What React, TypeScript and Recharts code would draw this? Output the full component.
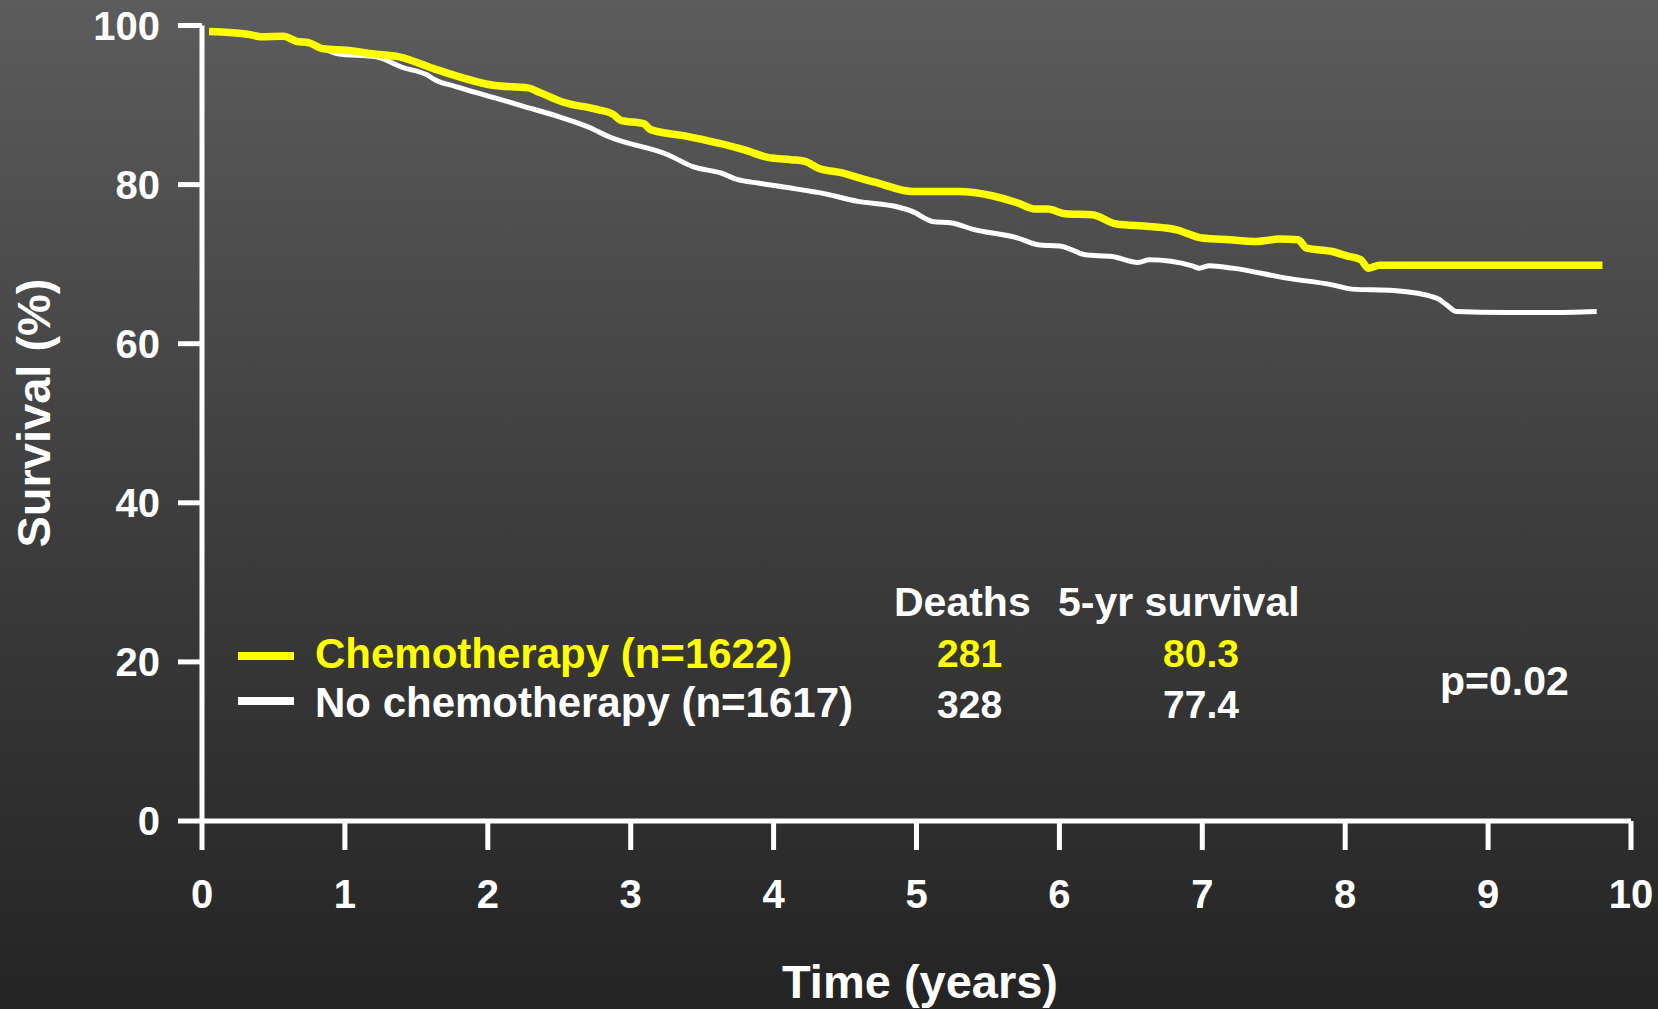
import { LineChart, Line, XAxis, YAxis, Legend } from "recharts";

// survival curves (time in years, survival in %)
const chemoTime = [
  0.05, 0.33, 0.41, 0.57, 0.66, 0.75, 0.85, 1.01, 1.19, 1.38, 1.64, 2.05, 2.28,
  2.37, 2.53, 2.77, 2.88, 2.93, 3.09, 3.14, 3.37, 3.79, 3.96, 4.12, 4.22, 4.31,
  4.48, 4.64, 4.73, 4.97, 5.29, 5.53, 5.71, 5.83, 5.92, 6.04, 6.23, 6.4, 6.63,
  6.82, 7.0, 7.19, 7.38, 7.54, 7.67, 7.73, 7.91, 8.01, 8.11, 8.16, 8.24, 9.8,
];
const chemoSurv = [
  99.25, 98.87, 98.6, 98.65, 98.02, 97.82, 97.07, 96.89, 96.44, 96.06, 94.46,
  92.45, 92.16, 91.53, 90.35, 89.43, 88.8, 88.08, 87.67, 86.91, 86.15, 84.39,
  83.42, 83.13, 82.92, 82.09, 81.46, 80.62, 80.2, 79.14, 79.14, 78.6, 77.68,
  76.93, 76.93, 76.34, 76.21, 75.04, 74.74, 74.32, 73.28, 73.06, 72.85, 73.15,
  73.06, 72.02, 71.59, 71.05, 70.55, 69.5, 69.86, 69.86,
];

const noChemoTime = [
  0.05, 0.33, 0.41, 0.57, 0.66, 0.75, 0.85, 0.95, 1.22, 1.4, 1.57, 1.64, 1.77,
  2.05, 2.25, 2.49, 2.72, 2.84, 3.26, 3.44, 3.63, 3.75, 3.89, 4.12, 4.22, 4.31,
  4.59, 4.87, 4.97, 5.11, 5.25, 5.39, 5.71, 5.85, 6.02, 6.18, 6.37, 6.55, 6.63,
  6.93, 6.98, 7.05, 7.21, 7.59, 7.91, 8.05, 8.34, 8.64, 8.71, 8.78, 9.13, 9.41,
  9.76,
];
const noChemoSurv = [
  99.25, 98.87, 98.6, 98.65, 98.02, 97.82, 97.07, 96.45, 96.06, 94.75, 93.83,
  93.08, 92.36, 90.9, 89.84, 88.58, 87.12, 86.07, 83.76, 82.22, 81.46, 80.62,
  80.2, 79.57, 79.27, 79.02, 77.89, 77.18, 76.63, 75.37, 75.17, 74.41, 73.28,
  72.44, 72.22, 71.18, 70.96, 70.21, 70.55, 69.79, 69.5, 69.79, 69.5, 68.24,
  67.4, 66.86, 66.68, 65.73, 64.88, 64.04, 63.91, 63.91, 64.04,
];

const xTicks = [0, 1, 2, 3, 4, 5, 6, 7, 8, 9, 10];
const yTicks = [0, 20, 40, 60, 80, 100];

const chemoName = "Chemotherapy (n=1622)";
const noChemoName = "No chemotherapy (n=1617)";
const legendOrder = [chemoName, noChemoName];

const tableHeaders = ["Deaths", "5-yr survival"];
const deaths = ["281", "328"];
const fiveYear = ["80.3", "77.4"];
const pValue = "p=0.02";

const chemoData = chemoTime.map((t, i) => ({ t, s: chemoSurv[i] }));
const noChemoData = noChemoTime.map((t, i) => ({ t, s: noChemoSurv[i] }));

const FONT = "'Liberation Sans', Arial, Helvetica, sans-serif";
const YELLOW = "#ffff00";
const WHITE = "#ffffff";

const tickStyle = {
  fill: WHITE,
  fontSize: 40,
  fontWeight: 700,
  fontFamily: FONT,
};

function LegendContent(props: any) {
  const items = [...(props.payload || [])].sort(
    (a: any, b: any) => legendOrder.indexOf(a.value) - legendOrder.indexOf(b.value)
  );
  return (
    <svg width={640} height={110} style={{ display: "block", overflow: "visible" }}>
      {items.map((it: any, i: number) => (
        <g key={it.value}>
          <line
            x1={0}
            x2={56}
            y1={36 + i * 45}
            y2={36 + i * 45}
            stroke={it.color}
            strokeWidth={8}
          />
          <text
            x={77}
            y={48 + i * 49}
            fill={it.color}
            fontSize={42}
            fontWeight={700}
            fontFamily={FONT}
          >
            {it.value}
          </text>
        </g>
      ))}
    </svg>
  );
}

export default function App() {
  const textProps = { fontSize: 41, fontWeight: 700, fontFamily: FONT };
  return (
    <div
      style={{
        position: "absolute",
        left: 0,
        top: 0,
        width: 1658,
        height: 1009,
        background: "linear-gradient(to bottom, #5c5c5c 0%, #3e3e3e 50%, #242424 100%)",
      }}
    >
      <LineChart
        width={1658}
        height={1009}
        margin={{ top: 25.5, right: 27, left: 82, bottom: 88 }}
      >
        <XAxis
          dataKey="t"
          type="number"
          domain={[0, 10]}
          ticks={xTicks}
          interval={0}
          height={100}
          axisLine={{ stroke: WHITE, strokeWidth: 5 }}
          tickLine={{ stroke: WHITE, strokeWidth: 5 }}
          tickSize={29}
          tickMargin={30}
          tick={tickStyle}
        />
        <YAxis
          type="number"
          domain={[0, 100]}
          ticks={yTicks}
          interval={0}
          width={120}
          axisLine={{ stroke: WHITE, strokeWidth: 5 }}
          tickLine={{ stroke: WHITE, strokeWidth: 5 }}
          tickSize={24}
          tickMargin={18}
          tick={tickStyle}
        />
        <Legend
          layout="vertical"
          align="center"
          verticalAlign="middle"
          content={<LegendContent />}
          wrapperStyle={{ position: "absolute", left: 238, top: 620, width: 640, height: 110 }}
        />
        <Line
          data={noChemoData}
          dataKey="s"
          name={noChemoName}
          type="monotone"
          stroke={WHITE}
          strokeWidth={5}
          strokeLinejoin="round"
          dot={false}
          activeDot={false}
          isAnimationActive={false}
        />
        <Line
          data={chemoData}
          dataKey="s"
          name={chemoName}
          type="monotone"
          stroke={YELLOW}
          strokeWidth={7.5}
          strokeLinejoin="round"
          dot={false}
          activeDot={false}
          isAnimationActive={false}
        />
      </LineChart>
      <svg
        width={1658}
        height={1009}
        style={{ position: "absolute", left: 0, top: 0, pointerEvents: "none" }}
      >
        <text
          x={50}
          y={413}
          transform="rotate(-90, 50, 413)"
          textAnchor="middle"
          fill={WHITE}
          fontSize={47}
          fontWeight={700}
          fontFamily={FONT}
        >
          Survival (%)
        </text>
        <text
          x={920}
          y={998}
          textAnchor="middle"
          fill={WHITE}
          fontSize={47}
          fontWeight={700}
          fontFamily={FONT}
        >
          Time (years)
        </text>
        <text x={894} y={616} fill={WHITE} {...textProps}>
          {tableHeaders[0]}
        </text>
        <text x={1058} y={616} fill={WHITE} {...textProps}>
          {tableHeaders[1]}
        </text>
        <text x={937} y={667} fill={YELLOW} {...textProps} fontSize={39}>
          {deaths[0]}
        </text>
        <text x={1163} y={667} fill={YELLOW} {...textProps} fontSize={39}>
          {fiveYear[0]}
        </text>
        <text x={937} y={718} fill={WHITE} {...textProps} fontSize={39}>
          {deaths[1]}
        </text>
        <text x={1163} y={718} fill={WHITE} {...textProps} fontSize={39}>
          {fiveYear[1]}
        </text>
        <text x={1440} y={695} fill={WHITE} {...textProps}>
          {pValue}
        </text>
      </svg>
    </div>
  );
}
